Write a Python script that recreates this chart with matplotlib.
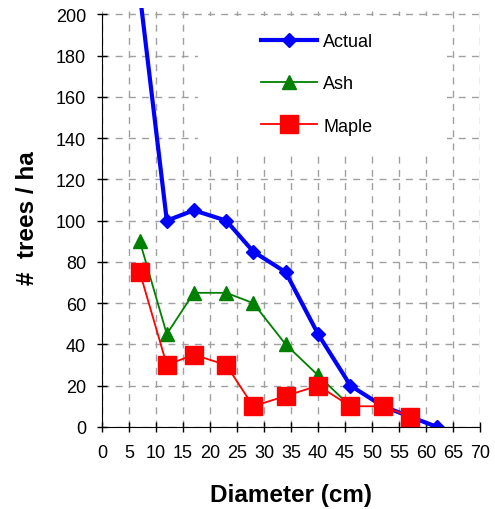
import matplotlib
matplotlib.use("Agg")
import matplotlib.pyplot as plt
from matplotlib.patches import Rectangle

plt.rcParams['font.family'] = ['Liberation Sans', 'DejaVu Sans']

# diameter classes (cm)
diam = [7, 12, 17, 23, 28, 34, 40, 46, 52, 57, 62]
actual = [210, 100, 105, 100, 85, 75, 45, 20, 10, 5, 0]
ash = [90, 45, 65, 65, 60, 40, 25, 10]
maple = [75, 30, 35, 30, 10, 15, 20, 10, 10, 5]

x_ticks = list(range(0, 75, 5))
y_ticks = list(range(0, 220, 20))

fig = plt.figure(figsize=(4.95, 5.10), dpi=100)
ax = fig.add_axes([0.206, 0.161, 0.764, 0.821])

ax.plot(diam, actual, color='#0000FF', lw=3, marker='D', ms=7, label='Actual', zorder=2)
ax.plot(diam[:len(ash)], ash, color='#008000', lw=1.3, marker='^', ms=10, label='Ash', zorder=3)
ax.plot(diam[:len(maple)], maple, color='#FF0000', lw=1.3, marker='s', ms=13, label='Maple', zorder=4)

ax.set_xlim(0, 70)
ax.set_ylim(0, 203)
ax.set_xticks(x_ticks)
ax.set_yticks(y_ticks)
ax.set_axisbelow(True)
ax.grid(True, linestyle=(0, (5, 4.5)), color='#a0a0a0', lw=1)

for s in ['top', 'right']:
    ax.spines[s].set_visible(False)
ax.spines['left'].set_bounds(0, 200)
ax.tick_params(direction='inout', length=7, width=1, labelsize=13)
ax.tick_params(axis='x', pad=9)
ax.tick_params(axis='y', pad=8)

# white box behind the legend hides the grid there
ax.add_patch(Rectangle((0.254, 0.659), 0.659, 0.322, transform=ax.transAxes,
                       facecolor='white', edgecolor='none', zorder=1.5))

ax.legend(loc='upper left', bbox_to_anchor=(0.527, 0.933), bbox_transform=fig.transFigure,
          frameon=False, fontsize=13, borderpad=0, borderaxespad=0,
          handlelength=3.1, handletextpad=0.35, labelspacing=1.4)

ax.set_xlabel('Diameter (cm)', fontsize=17.5, fontweight='bold', labelpad=16)
ax.set_ylabel('#  trees / ha', fontsize=17.5, fontweight='bold', labelpad=12)

fig.savefig('out.png', dpi=100)
